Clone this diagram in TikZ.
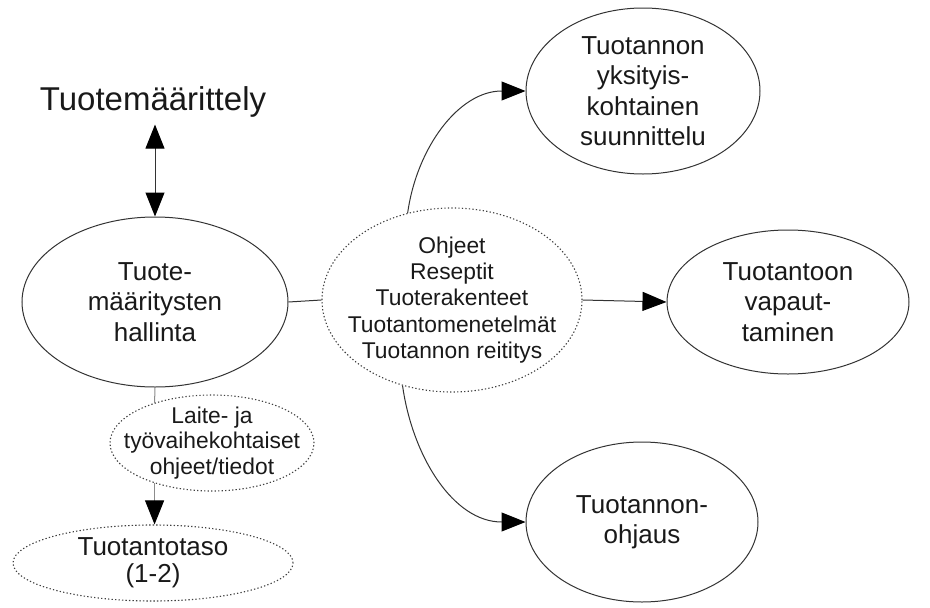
\documentclass[tikz,border=0pt]{standalone}
\usepackage{fontspec}
\setmainfont{Liberation Sans}
\usetikzlibrary{shapes.geometric,arrows.meta}
\begin{document}
\begin{tikzpicture}[x=1pt,y=-1pt,
  txt/.style={text=black!90,align=center,inner sep=0pt},
  bigtxt/.style={txt,font=\fontsize{26}{30.5}\selectfont},
  oval/.style={ellipse,draw=black!80,line width=1pt,inner sep=0pt},
  dotoval/.style={ellipse,draw=black!75,line width=1.1pt,dash pattern=on 1.3pt off 2.2pt,
    inner sep=0pt},
  link/.style={draw=black!80,line width=1pt},
  tip/.style={Triangle[length=24pt,width=19pt,color=black]},
  arr/.style={link,-{Triangle[length=24pt,width=19pt,color=black]}},
  dblarr/.style={link,{Triangle[length=24pt,width=19pt,color=black]}-{Triangle[length=24pt,width=19pt,color=black]}},
  glink/.style={draw=black!45,line width=1pt},
  garr/.style={glink,-{Triangle[length=24pt,width=19pt,color=black]}}]
\useasboundingbox (0,0) rectangle (930,608);

% title
\node[txt,font=\fontsize{33}{38}\selectfont] (title) at (153,102) {Tuotemäärittely};

% main ellipses
\node[oval,minimum width=266pt,minimum height=170pt] (hall) at (155,302) {};
\node[bigtxt] (hallt) at (hall.center) {Tuote-\\määritysten\\hallinta};
\node[oval,minimum width=234pt,minimum height=166pt] (plan) at (643,91) {};
\node[bigtxt] (plant) at (plan.center) {Tuotannon\\yksityis-\\kohtainen\\suunnittelu};
\node[oval,minimum width=242pt,minimum height=144pt] (rel) at (788,302) {};
\node[bigtxt] (relt) at (rel.center) {Tuotantoon\\vapaut-\\taminen};
\node[oval,minimum width=232pt,minimum height=160pt] (ctrl) at (642,522) {};
\node[bigtxt] (ctrlt) at (ctrl.center) {Tuotannon-\\ohjaus};

% dotted ellipses
\node[dotoval,minimum width=260pt,minimum height=184pt] (dot) at (452,300) {};
\node[txt,font=\fontsize{22.8}{26.4}\selectfont] (dott) at (dot.center)
  {Ohjeet\\Reseptit\\Tuoterakenteet\\Tuotantomenetelmät\\Tuotannon reititys};
\node[dotoval,minimum width=204pt,minimum height=96pt] (lay) at (212,443) {};
\node[txt,font=\fontsize{22.8}{25.2}\selectfont] (layt) at (lay.center)
  {Laite- ja\\työvaihekohtaiset\\ohjeet/tiedot};
\node[dotoval,minimum width=280pt,minimum height=76pt] (tt) at (153,563) {};
\node[txt,font=\fontsize{26}{27}\selectfont] (ttt) at (tt.center)
  {Tuotantotaso\\(1-2)};

% connectors
\draw[dblarr] ([yshift=-7pt]title.south -| hall.north) -- (hall.north);
\draw[link] (hall.east) -- (dot.west);
\draw[arr] (dot.east) -- (rel.west);
\draw[arr] (dot.117) to[out=82,in=180] (plan.west);
\draw[arr] (dot.-120) to[out=-82,in=180] (ctrl.west);
\draw[glink] (hall.south) -- (lay.145);
\draw[garr] (lay.-145) -- (lay.-145 |- tt.north);
\end{tikzpicture}
\end{document}
